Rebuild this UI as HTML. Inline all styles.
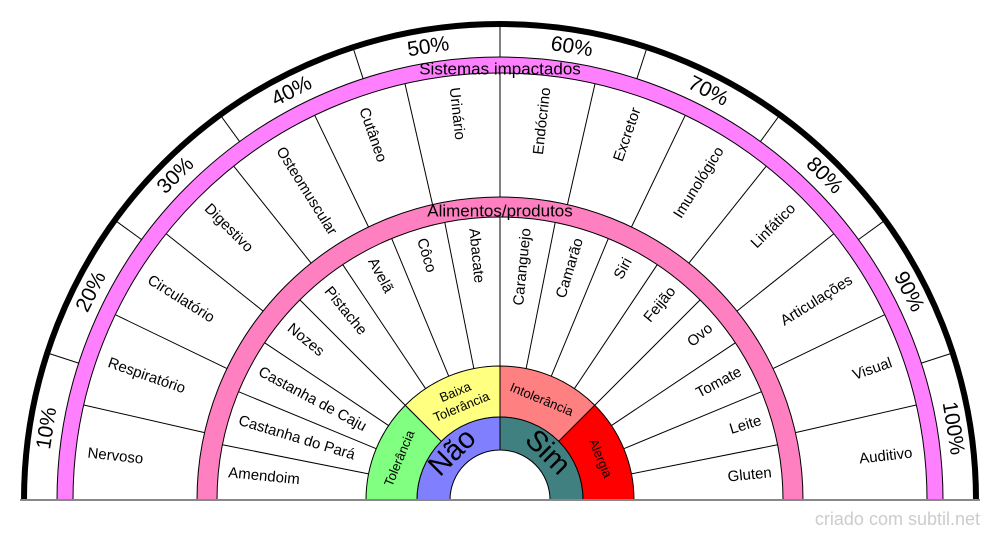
<!DOCTYPE html>
<html><head><meta charset="utf-8"><style>
html,body{margin:0;padding:0;background:#fff;}
svg{display:block;font-family:"Liberation Sans",sans-serif;}
</style></head><body>
<svg width="1000" height="540" viewBox="0 0 1000 540" xmlns="http://www.w3.org/2000/svg">
<rect width="1000" height="540" fill="#fff"/>
<path d="M24,500 A476,476 0 0 1 976,500" fill="none" stroke="#000" stroke-width="6"/>
<path d="M57,500 A443,443 0 0 1 943,500 L927,500 A427,427 0 0 0 73,500 Z" fill="#ff80ff" stroke="#000" stroke-width="1"/>
<path d="M197,500 A303,303 0 0 1 803,500 L783,500 A283,283 0 0 0 217,500 Z" fill="#ff80c0" stroke="#000" stroke-width="1"/>
<path d="M366,500 A134,134 0 0 1 405.25,405.25 L441.31,441.31 A83,83 0 0 0 417,500 Z" fill="#80ff80" stroke="#000" stroke-width="1"/>
<path d="M405.25,405.25 A134,134 0 0 1 500,366 L500,417 A83,83 0 0 0 441.31,441.31 Z" fill="#ffff80" stroke="#000" stroke-width="1"/>
<path d="M500,366 A134,134 0 0 1 594.75,405.25 L558.69,441.31 A83,83 0 0 0 500,417 Z" fill="#ff8080" stroke="#000" stroke-width="1"/>
<path d="M594.75,405.25 A134,134 0 0 1 634,500 L583,500 A83,83 0 0 0 558.69,441.31 Z" fill="#ff0000" stroke="#000" stroke-width="1"/>
<path d="M417,500 A83,83 0 0 1 500,417 L500,450 A50,50 0 0 0 450,500 Z" fill="#8080ff" stroke="#000" stroke-width="1"/>
<path d="M500,417 A83,83 0 0 1 583,500 L550,500 A50,50 0 0 0 500,450 Z" fill="#408080" stroke="#000" stroke-width="1"/>
<g stroke="#000" stroke-width="1">
<line x1="217" y1="500" x2="366" y2="500" transform="rotate(11.25 500 500)"/>
<line x1="217" y1="500" x2="366" y2="500" transform="rotate(22.5 500 500)"/>
<line x1="217" y1="500" x2="366" y2="500" transform="rotate(33.75 500 500)"/>
<line x1="217" y1="500" x2="366" y2="500" transform="rotate(45 500 500)"/>
<line x1="217" y1="500" x2="366" y2="500" transform="rotate(56.25 500 500)"/>
<line x1="217" y1="500" x2="366" y2="500" transform="rotate(67.5 500 500)"/>
<line x1="217" y1="500" x2="366" y2="500" transform="rotate(78.75 500 500)"/>
<line x1="217" y1="500" x2="366" y2="500" transform="rotate(90 500 500)"/>
<line x1="217" y1="500" x2="366" y2="500" transform="rotate(101.25 500 500)"/>
<line x1="217" y1="500" x2="366" y2="500" transform="rotate(112.5 500 500)"/>
<line x1="217" y1="500" x2="366" y2="500" transform="rotate(123.75 500 500)"/>
<line x1="217" y1="500" x2="366" y2="500" transform="rotate(135 500 500)"/>
<line x1="217" y1="500" x2="366" y2="500" transform="rotate(146.25 500 500)"/>
<line x1="217" y1="500" x2="366" y2="500" transform="rotate(157.5 500 500)"/>
<line x1="217" y1="500" x2="366" y2="500" transform="rotate(168.75 500 500)"/>
<line x1="73" y1="500" x2="197" y2="500" transform="rotate(12.857 500 500)"/>
<line x1="73" y1="500" x2="197" y2="500" transform="rotate(25.714 500 500)"/>
<line x1="73" y1="500" x2="197" y2="500" transform="rotate(38.571 500 500)"/>
<line x1="73" y1="500" x2="197" y2="500" transform="rotate(51.429 500 500)"/>
<line x1="73" y1="500" x2="197" y2="500" transform="rotate(64.286 500 500)"/>
<line x1="73" y1="500" x2="197" y2="500" transform="rotate(77.143 500 500)"/>
<line x1="73" y1="500" x2="197" y2="500" transform="rotate(90 500 500)"/>
<line x1="73" y1="500" x2="197" y2="500" transform="rotate(102.857 500 500)"/>
<line x1="73" y1="500" x2="197" y2="500" transform="rotate(115.714 500 500)"/>
<line x1="73" y1="500" x2="197" y2="500" transform="rotate(128.571 500 500)"/>
<line x1="73" y1="500" x2="197" y2="500" transform="rotate(141.429 500 500)"/>
<line x1="73" y1="500" x2="197" y2="500" transform="rotate(154.286 500 500)"/>
<line x1="73" y1="500" x2="197" y2="500" transform="rotate(167.143 500 500)"/>
<line x1="25" y1="500" x2="57" y2="500" transform="rotate(18 500 500)"/>
<line x1="25" y1="500" x2="57" y2="500" transform="rotate(36 500 500)"/>
<line x1="25" y1="500" x2="57" y2="500" transform="rotate(54 500 500)"/>
<line x1="25" y1="500" x2="57" y2="500" transform="rotate(72 500 500)"/>
<line x1="25" y1="500" x2="57" y2="500" transform="rotate(90 500 500)"/>
<line x1="25" y1="500" x2="57" y2="500" transform="rotate(108 500 500)"/>
<line x1="25" y1="500" x2="57" y2="500" transform="rotate(126 500 500)"/>
<line x1="25" y1="500" x2="57" y2="500" transform="rotate(144 500 500)"/>
<line x1="25" y1="500" x2="57" y2="500" transform="rotate(162 500 500)"/>
</g>
<line x1="20" y1="500" x2="980" y2="500" stroke="#888" stroke-width="2"/>
<g font-size="15" fill="#000" dominant-baseline="middle">
<text x="227" y="500" transform="rotate(5.625 500 500)">Amendoim</text>
<text x="227" y="500" transform="rotate(16.875 500 500)">Castanha do Pará</text>
<text x="227" y="500" transform="rotate(28.125 500 500)">Castanha de Caju</text>
<text x="227" y="500" transform="rotate(39.375 500 500)">Nozes</text>
<text x="227" y="500" transform="rotate(50.625 500 500)">Pistache</text>
<text x="227" y="500" transform="rotate(61.875 500 500)">Avelã</text>
<text x="227" y="500" transform="rotate(73.125 500 500)">Côco</text>
<text x="227" y="500" transform="rotate(84.375 500 500)">Abacate</text>
<g text-anchor="end">
<text x="773" y="500" transform="rotate(-84.375 500 500)">Caranguejo</text>
<text x="773" y="500" transform="rotate(-73.125 500 500)">Camarão</text>
<text x="773" y="500" transform="rotate(-61.875 500 500)">Siri</text>
<text x="773" y="500" transform="rotate(-50.625 500 500)">Feijão</text>
<text x="773" y="500" transform="rotate(-39.375 500 500)">Ovo</text>
<text x="773" y="500" transform="rotate(-28.125 500 500)">Tomate</text>
<text x="773" y="500" transform="rotate(-16.875 500 500)">Leite</text>
<text x="773" y="500" transform="rotate(-5.625 500 500)">Gluten</text>
</g>
<text x="85" y="500" transform="rotate(6.43 500 500)">Nervoso</text>
<text x="85" y="500" transform="rotate(19.29 500 500)">Respiratório</text>
<text x="85" y="500" transform="rotate(32.14 500 500)">Circulatório</text>
<text x="85" y="500" transform="rotate(45 500 500)">Digestivo</text>
<text x="85" y="500" transform="rotate(57.86 500 500)">Osteomuscular</text>
<text x="85" y="500" transform="rotate(70.71 500 500)">Cutâneo</text>
<text x="85" y="500" transform="rotate(83.57 500 500)">Urinário</text>
<g text-anchor="end">
<text x="915" y="500" transform="rotate(-83.57 500 500)">Endócrino</text>
<text x="915" y="500" transform="rotate(-70.71 500 500)">Excretor</text>
<text x="915" y="500" transform="rotate(-57.86 500 500)">Imunológico</text>
<text x="915" y="500" transform="rotate(-45 500 500)">Linfático</text>
<text x="915" y="500" transform="rotate(-32.14 500 500)">Articulações</text>
<text x="915" y="500" transform="rotate(-19.29 500 500)">Visual</text>
<text x="915" y="500" transform="rotate(-6.43 500 500)">Auditivo</text>
</g>
</g>
<g font-size="21" text-anchor="middle" dominant-baseline="middle">
<text x="500" y="42" transform="rotate(-81 500 500)">10%</text>
<text x="500" y="42" transform="rotate(-63 500 500)">20%</text>
<text x="500" y="42" transform="rotate(-45 500 500)">30%</text>
<text x="500" y="42" transform="rotate(-27 500 500)">40%</text>
<text x="500" y="42" transform="rotate(-9 500 500)">50%</text>
<text x="500" y="42" transform="rotate(9 500 500)">60%</text>
<text x="500" y="42" transform="rotate(27 500 500)">70%</text>
<text x="500" y="42" transform="rotate(45 500 500)">80%</text>
<text x="500" y="42" transform="rotate(63 500 500)">90%</text>
<text x="500" y="42" transform="rotate(81 500 500)">100%</text>
</g>
<text x="500" y="70" font-size="17" text-anchor="middle" dominant-baseline="middle">Sistemas impactados</text>
<text x="500" y="212" font-size="17" text-anchor="middle" dominant-baseline="middle">Alimentos/produtos</text>
<g font-size="13" text-anchor="middle" dominant-baseline="middle">
<text x="500" y="392" transform="rotate(-67.5 500 500)">Tolerância</text>
<text x="500" y="384" transform="rotate(-22.5 500 500)">Baixa</text>
<text x="500" y="400" transform="rotate(-22.5 500 500)">Tolerância</text>
<text x="500" y="392" transform="rotate(22.5 500 500)">Intolerância</text>
<text x="500" y="392" transform="rotate(67.5 500 500)">Alergia</text>
</g>
<g font-size="29" text-anchor="middle" dominant-baseline="middle">
<text x="500" y="434" transform="rotate(-45 500 500)">Não</text>
<text x="500" y="434" transform="rotate(45 500 500)">Sim</text>
</g>
<text x="980" y="525" font-size="18" fill="#ccc" text-anchor="end">criado com subtil.net</text>
</svg>
</body></html>
